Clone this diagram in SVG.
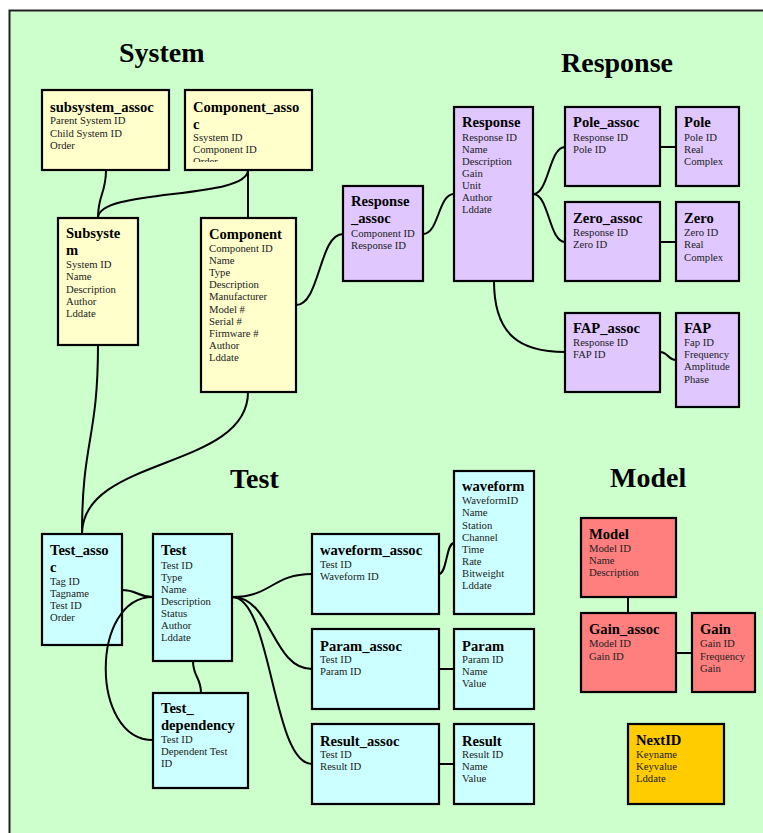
<svg xmlns="http://www.w3.org/2000/svg" width="763" height="833" viewBox="0 0 763 833">
<style>
.bg{fill:#CCFFCC;stroke:#222;stroke-width:2}
.box{stroke:#000;stroke-width:2.2}
.y{fill:#FFFFCC}.p{fill:#E0C8FF}.c{fill:#CCFFFF}.r{fill:#FF7F7F}.o{fill:#FFCC00}
.h{font-family:"Liberation Serif","Times New Roman",serif;font-weight:bold;font-size:28px;fill:#000}
.t{font-family:"Liberation Serif","Times New Roman",serif;font-weight:bold;font-size:14.6px;fill:#000}
.f{font-family:"Liberation Serif","Times New Roman",serif;font-size:10.7px;fill:#222}
.cn{fill:none;stroke:#000;stroke-width:2}
</style>
<defs>
<clipPath id="clipCA"><rect x="185" y="90" width="127" height="72"/></clipPath>
</defs>
<rect class="bg" x="9.5" y="10.5" width="800" height="900"/>
<text class="h" x="119" y="61.5">System</text>
<text class="h" x="561" y="71.5">Response</text>
<text class="h" x="230" y="487.7">Test</text>
<text class="h" x="610" y="487.3">Model</text>
<g id="subsystem_assoc"><rect class="box y" x="42" y="90" width="127" height="80"/>
<text class="t" x="50" y="112">subsystem_assoc</text>
<text class="f" x="50" y="124.3">Parent System ID<tspan x="50" dy="12.3">Child System ID</tspan><tspan x="50" dy="12.3">Order</tspan></text></g>
<g id="Component_assoc"><rect class="box y" x="185" y="90" width="127" height="80"/>
<g clip-path="url(#clipCA)">
<text class="t" x="193" y="112">Component_asso<tspan x="193" dy="16.5">c</tspan></text>
<text class="f" x="193" y="141">Ssystem ID<tspan x="193" dy="12.2">Component ID</tspan><tspan x="193" dy="12.2">Order</tspan></text></g></g>
<g id="Subsystem"><rect class="box y" x="58" y="218" width="80" height="127"/>
<text class="t" x="66" y="238.3">Subsyste<tspan x="66" dy="16.7">m</tspan></text>
<text class="f" x="66" y="268.3">System ID<tspan x="66" dy="12.1">Name</tspan><tspan x="66" dy="12.1">Description</tspan><tspan x="66" dy="12.1">Author</tspan><tspan x="66" dy="12.1">Lddate</tspan></text></g>
<g id="Component"><rect class="box y" x="201" y="218" width="95" height="174"/>
<text class="t" x="209" y="239.3">Component</text>
<text class="f" x="209" y="252">Component ID<tspan x="209" dy="12.1">Name</tspan><tspan x="209" dy="12.1">Type</tspan><tspan x="209" dy="12.1">Description</tspan><tspan x="209" dy="12.1">Manufacturer</tspan><tspan x="209" dy="12.1">Model #</tspan><tspan x="209" dy="12.1">Serial #</tspan><tspan x="209" dy="12.1">Firmware #</tspan><tspan x="209" dy="12.1">Author</tspan><tspan x="209" dy="12.1">Lddate</tspan></text></g>
<g id="Response_assoc"><rect class="box p" x="343" y="186" width="80" height="95"/>
<text class="t" x="351" y="206">Response<tspan x="351" dy="16.7">_assoc</tspan></text>
<text class="f" x="351" y="236.7">Component ID<tspan x="351" dy="12">Response ID</tspan></text></g>
<g id="Response"><rect class="box p" x="454" y="107" width="79" height="174"/>
<text class="t" x="462" y="127.3">Response</text>
<text class="f" x="462" y="140.7">Response ID<tspan x="462" dy="12">Name</tspan><tspan x="462" dy="12">Description</tspan><tspan x="462" dy="12">Gain</tspan><tspan x="462" dy="12">Unit</tspan><tspan x="462" dy="12">Author</tspan><tspan x="462" dy="12">Lddate</tspan></text></g>
<g id="Pole_assoc"><rect class="box p" x="565" y="107" width="95" height="79"/>
<text class="t" x="573" y="127.3">Pole_assoc</text>
<text class="f" x="573" y="140.7">Response ID<tspan x="573" dy="12">Pole ID</tspan></text></g>
<g id="Pole"><rect class="box p" x="676" y="107" width="63" height="79"/>
<text class="t" x="684" y="127.3">Pole</text>
<text class="f" x="684" y="140.7">Pole ID<tspan x="684" dy="12">Real</tspan><tspan x="684" dy="12">Complex</tspan></text></g>
<g id="Zero_assoc"><rect class="box p" x="565" y="202" width="95" height="79"/>
<text class="t" x="573" y="222.7">Zero_assoc</text>
<text class="f" x="573" y="236">Response ID<tspan x="573" dy="12.3">Zero ID</tspan></text></g>
<g id="Zero"><rect class="box p" x="676" y="202" width="63" height="79"/>
<text class="t" x="684" y="222.7">Zero</text>
<text class="f" x="684" y="236">Zero ID<tspan x="684" dy="12.3">Real</tspan><tspan x="684" dy="12.3">Complex</tspan></text></g>
<g id="FAP_assoc"><rect class="box p" x="565" y="313" width="95" height="79"/>
<text class="t" x="573" y="333.3">FAP_assoc</text>
<text class="f" x="573" y="346">Response ID<tspan x="573" dy="12">FAP ID</tspan></text></g>
<g id="FAP"><rect class="box p" x="676" y="313" width="63" height="94"/>
<text class="t" x="684" y="333.3">FAP</text>
<text class="f" x="684" y="346">Fap ID<tspan x="684" dy="12.2">Frequency</tspan><tspan x="684" dy="12.2">Amplitude</tspan><tspan x="684" dy="12.2">Phase</tspan></text></g>
<g id="Test_assoc"><rect class="box c" x="42" y="534" width="80" height="111"/>
<text class="t" x="50" y="555">Test_asso<tspan x="50" dy="16.7">c</tspan></text>
<text class="f" x="50" y="585">Tag ID<tspan x="50" dy="12">Tagname</tspan><tspan x="50" dy="12">Test ID</tspan><tspan x="50" dy="12">Order</tspan></text></g>
<g id="Test"><rect class="box c" x="153" y="534" width="79" height="127"/>
<text class="t" x="161" y="555">Test</text>
<text class="f" x="161" y="569">Test ID<tspan x="161" dy="12">Type</tspan><tspan x="161" dy="12">Name</tspan><tspan x="161" dy="12">Description</tspan><tspan x="161" dy="12">Status</tspan><tspan x="161" dy="12">Author</tspan><tspan x="161" dy="12">Lddate</tspan></text></g>
<g id="Test_dependency"><rect class="box c" x="153" y="693" width="95" height="95"/>
<text class="t" x="161" y="713.3">Test_<tspan x="161" dy="16.7">dependency</tspan></text>
<text class="f" x="161" y="742.7">Test ID<tspan x="161" dy="12.2">Dependent Test</tspan><tspan x="161" dy="12.2">ID</tspan></text></g>
<g id="waveform_assoc"><rect class="box c" x="312" y="534" width="127" height="80"/>
<text class="t" x="320" y="555">waveform_assoc</text>
<text class="f" x="320" y="568.3">Test ID<tspan x="320" dy="12.1">Waveform ID</tspan></text></g>
<g id="waveform"><rect class="box c" x="454" y="471" width="80" height="143"/>
<text class="t" x="462" y="490.7">waveform</text>
<text class="f" x="462" y="504.3">WaveformID<tspan x="462" dy="12.1">Name</tspan><tspan x="462" dy="12.1">Station</tspan><tspan x="462" dy="12.1">Channel</tspan><tspan x="462" dy="12.1">Time</tspan><tspan x="462" dy="12.1">Rate</tspan><tspan x="462" dy="12.1">Bitweight</tspan><tspan x="462" dy="12.1">Lddate</tspan></text></g>
<g id="Param_assoc"><rect class="box c" x="312" y="629" width="127" height="80"/>
<text class="t" x="320" y="650.7">Param_assoc</text>
<text class="f" x="320" y="663">Test ID<tspan x="320" dy="12">Param ID</tspan></text></g>
<g id="Param"><rect class="box c" x="454" y="629" width="80" height="80"/>
<text class="t" x="462" y="650.7">Param</text>
<text class="f" x="462" y="663">Param ID<tspan x="462" dy="12">Name</tspan><tspan x="462" dy="12">Value</tspan></text></g>
<g id="Result_assoc"><rect class="box c" x="312" y="724" width="127" height="80"/>
<text class="t" x="320" y="745.7">Result_assoc</text>
<text class="f" x="320" y="758.3">Test ID<tspan x="320" dy="12">Result ID</tspan></text></g>
<g id="Result"><rect class="box c" x="454" y="724" width="80" height="80"/>
<text class="t" x="462" y="745.7">Result</text>
<text class="f" x="462" y="758.3">Result ID<tspan x="462" dy="12">Name</tspan><tspan x="462" dy="12">Value</tspan></text></g>
<g id="Model"><rect class="box r" x="581" y="518" width="95" height="79"/>
<text class="t" x="589" y="539.3">Model</text>
<text class="f" x="589" y="552.3">Model ID<tspan x="589" dy="12">Name</tspan><tspan x="589" dy="12">Description</tspan></text></g>
<g id="Gain_assoc"><rect class="box r" x="581" y="613" width="95" height="79"/>
<text class="t" x="589" y="634">Gain_assoc</text>
<text class="f" x="589" y="647">Model ID<tspan x="589" dy="12.5">Gain ID</tspan></text></g>
<g id="Gain"><rect class="box r" x="692" y="613" width="63" height="79"/>
<text class="t" x="700" y="634">Gain</text>
<text class="f" x="700" y="647">Gain ID<tspan x="700" dy="12.5">Frequency</tspan><tspan x="700" dy="12.5">Gain</tspan></text></g>
<g id="NextID"><rect class="box o" x="628" y="724" width="96" height="80"/>
<text class="t" x="636" y="745">NextID</text>
<text class="f" x="636" y="757.7">Keyname<tspan x="636" dy="12.1">Keyvalue</tspan><tspan x="636" dy="12.1">Lddate</tspan></text></g>
<g id="connectors">
<path class="cn" d="M106,170 C106,194 98,194 98,218"/>
<path class="cn" d="M248,170 C248,200 98,188 98,218"/>
<path class="cn" d="M248,170 L248,218"/>
<path class="cn" d="M296,305 C320,305 319,234 343,234"/>
<path class="cn" d="M423,234 C439,234 438,194 454,194"/>
<path class="cn" d="M533,194 C549,194 549,147 565,147"/>
<path class="cn" d="M533,194 C549,194 549,242 565,242"/>
<path class="cn" d="M660,147 L676,147"/>
<path class="cn" d="M660,242 L676,242"/>
<path class="cn" d="M494,281 C494,335 520,352 565,352"/>
<path class="cn" d="M660,352 C668,352 668,360 676,360"/>
<path class="cn" d="M248,392 C248,470 82,456 82,534"/>
<path class="cn" d="M98,345 C98,440 82,440 82,534"/>
<path class="cn" d="M122,590 C138,590 137,597 153,597"/>
<path class="cn" d="M153,597 C90,597 90,740 153,740"/>
<path class="cn" d="M193,661 C193,677 201,677 201,693"/>
<path class="cn" d="M232,597 C272,597 272,574 312,574"/>
<path class="cn" d="M232,597 C272,597 272,669 312,669"/>
<path class="cn" d="M232,597 C272,597 272,764 312,764"/>
<path class="cn" d="M439,574 C447,574 446,543 454,543"/>
<path class="cn" d="M439,669 L454,669"/>
<path class="cn" d="M439,764 L454,764"/>
<path class="cn" d="M628,597 L628,613"/>
<path class="cn" d="M676,653 L692,653"/>
</g>
</svg>
